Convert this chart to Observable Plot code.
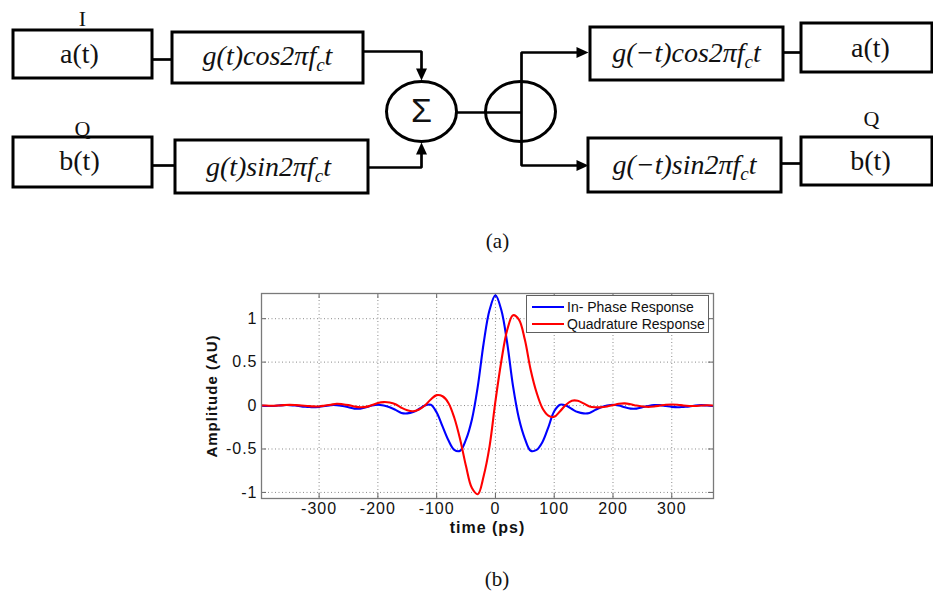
<!DOCTYPE html>
<html><head><meta charset="utf-8">
<script src="https://cdn.jsdelivr.net/npm/d3@7"></script>
<script src="https://cdn.jsdelivr.net/npm/@observablehq/plot@0.6"></script>
<style>
body{margin:0;background:#fff;}
#wrap{position:relative;width:933px;height:600px;overflow:hidden;background:#fff;}
#wrap svg{position:absolute;left:0;}
#legend{position:absolute;left:526px;top:295px;width:183px;height:38px;border:1px solid #606060;background:#fff;font-family:"Liberation Sans",Arial,sans-serif;font-size:14px;color:#111;box-sizing:border-box;}
.lrow{position:absolute;left:5px;height:16px;display:flex;align-items:center;white-space:nowrap;}
.lsw{width:32px;height:2px;margin-right:3px;}
#capb{position:absolute;top:567px;left:0;width:994px;text-align:center;font-family:"Liberation Serif","Times New Roman",serif;font-size:21px;color:#111;}
</style></head><body><div id="wrap"></div>
<script>
// ---------- chart (b) data ----------
const time = [-400,-390,-380,-370,-360,-350,-340,-330,-320,-310,-300,-290,-280,-270,-260,-250,-240,-230,-220,-210,-200,-190,-180,-170,-160,-150,-140,-130,-120,-110,-100,-90,-80,-70,-60,-50,-40,-30,-20,-10,0,10,20,30,40,50,60,70,80,90,100,110,120,130,140,150,160,170,180,190,200,210,220,230,240,250,260,270,280,290,300,310,320,330,340,350,360,370];
const inPhase = [0,-0.005,-0.005,0,0.005,0.005,0,-0.01,-0.015,-0.02,-0.015,-0.005,0.005,0.005,-0.005,-0.02,-0.035,-0.035,-0.02,0,0.01,0,-0.02,-0.05,-0.085,-0.09,-0.075,-0.04,0,0.01,-0.08,-0.24,-0.4,-0.51,-0.52,-0.39,-0.16,0.22,0.72,1.1,1.27,1.1,0.72,0.22,-0.15,-0.38,-0.52,-0.51,-0.42,-0.25,-0.065,0.01,0,-0.04,-0.075,-0.09,-0.085,-0.05,-0.02,0,0.01,0,-0.02,-0.035,-0.035,-0.02,-0.005,0.005,0.005,-0.005,-0.015,-0.02,-0.015,-0.01,0,0.005,0,-0.005];
const quadrature = [0,0,-0.003,0,0.005,0.008,0.005,0,-0.005,-0.01,-0.01,0,0.01,0.02,0.015,0.005,-0.01,-0.02,-0.015,0.005,0.03,0.04,0.035,0.015,-0.025,-0.055,-0.065,-0.045,0,0.07,0.12,0.107,0.03,-0.14,-0.39,-0.7,-0.95,-1.02,-0.81,-0.47,0.05,0.51,0.87,1.04,0.99,0.76,0.41,0.15,-0.03,-0.115,-0.13,-0.065,0.01,0.055,0.055,0.025,-0.01,-0.02,-0.02,-0.01,0.005,0.02,0.025,0.015,0,-0.01,-0.015,-0.01,0,0.01,0.012,0.01,0,-0.005,-0.005,0,0.003,0];
const seriesNames = ["In- Phase Response","Quadrature Response"];
const seriesColors = ["#0000ff","#ff0000"];
const xTicks = [-300,-200,-100,0,100,200,300];
const yTicks = [-1,-0.5,0,0.5,1];
const xLabel = "time (ps)";
const yLabel = "Amplitude (AU)";

// ---------- diagram (a) data ----------
const blockLabels = ["a(t)","g(t)cos2πf_ct","b(t)","g(t)sin2πf_ct","g(−t)cos2πf_ct","g(−t)sin2πf_ct","a(t)","b(t)"];
const blockLayout = [
  {x1:13,y1:30,x2:152,y2:78, tx:79,ty:54},
  {x1:172,y1:32,x2:363,y2:83, tx:267,ty:56},
  {x1:13,y1:137,x2:152,y2:187, tx:79,ty:161},
  {x1:175,y1:140,x2:368,y2:193, tx:268,ty:167},
  {x1:590,y1:27,x2:783,y2:80, tx:686,ty:53},
  {x1:588,y1:138,x2:781,y2:192, tx:684,ty:165},
  {x1:801,y1:23,x2:932,y2:72, tx:870,ty:48},
  {x1:801,y1:137,x2:932,y2:185, tx:870,ty:161}
];
const branchLabels = ["I","Q","Q"];
const branchLayout = [{x:82,y:18},{x:82,y:128},{x:871,y:118}];
const wires = [
  [[152,59],[172,59]],
  [[152,165],[175,165]],
  [[363,51],[421,51],[421,72]],
  [[368,167],[421,167],[421,150]],
  [[456,112],[521,112]],
  [[579,52],[521,52],[521,165],[579,165]],
  [[783,52],[801,52]],
  [[781,163],[801,163]]
];
const arrowTips = [{x:421,y:80,r:90},{x:421,y:142,r:-90},{x:588,y:52,r:0},{x:588,y:165,r:0}];
const nodes = [{x:421,y:111,label:"Σ"},{x:520,y:111,label:""}];
const captionA = "(a)";
const captionB = "(b)";

const wrap = document.getElementById("wrap");

// ---------- diagram ----------
function ellipseSymbol(rx, ry){
  const k = 0.5523;
  return {draw(c){
    c.moveTo(rx,0);
    c.bezierCurveTo(rx, ry*k, rx*k, ry, 0, ry);
    c.bezierCurveTo(-rx*k, ry, -rx, ry*k, -rx, 0);
    c.bezierCurveTo(-rx, -ry*k, -rx*k, -ry, 0, -ry);
    c.bezierCurveTo(rx*k, -ry, rx, -ry*k, rx, 0);
    c.closePath();
  }};
}
const arrowSymbol = {draw(c){ c.moveTo(0,0); c.lineTo(-12,-5.5); c.lineTo(-12,5.5); c.closePath(); }};
const wirePts = wires.flatMap((w,i)=>w.map(p=>({wire:i,x:p[0],y:p[1]})));
const blocks = blockLabels.map((t,i)=>({text:t,...blockLayout[i]}));
const branches = branchLabels.map((t,i)=>({text:t,...branchLayout[i]}));

const diagram = Plot.plot({
  width:933, height:265, margin:0,
  x:{domain:[0,933], range:[0,933], axis:null},
  y:{domain:[0,265], range:[0,265], axis:null},
  style:{background:"transparent"},
  marks:[
    Plot.line(wirePts,{x:"x",y:"y",z:"wire",stroke:"black",strokeWidth:2.7,strokeLinejoin:"miter",strokeLinecap:"butt"}),
    Plot.rect(blocks,{x1:"x1",x2:"x2",y1:"y1",y2:"y2",fill:"white",stroke:"black",strokeWidth:3}),
    Plot.dot(nodes,{x:"x",y:"y",symbol:ellipseSymbol(35,30),fill:"none",stroke:"black",strokeWidth:3}),
    Plot.dot(arrowTips,{x:"x",y:"y",rotate:"r",symbol:arrowSymbol,fill:"black",stroke:"none"}),
    Plot.text(blocks.filter(d=>!d.text.includes("_c")),{x:"tx",y:"ty",text:"text",fontFamily:"Liberation Serif, Times New Roman, serif",fontSize:28,fill:"#111"}),
    Plot.text(blocks.filter(d=>d.text.includes("_c")),{x:"tx",y:"ty",text:"text",fontFamily:"Liberation Serif, Times New Roman, serif",fontStyle:"italic",fontSize:28,fill:"#111"}),
    Plot.text(branches,{x:"x",y:"y",text:"text",fontFamily:"Liberation Serif, Times New Roman, serif",fontSize:22,fill:"#111"}),
    Plot.text(nodes,{x:"x",y:"y",text:"label",fontFamily:"Liberation Sans, Arial, sans-serif",fontSize:34,fill:"#111"}),
    Plot.text([captionA],{x:()=>497,y:()=>241,text:d=>d,fontFamily:"Liberation Serif, Times New Roman, serif",fontSize:21,fill:"#111"})
  ]
});
diagram.style.top = "0px";
d3.select(diagram).selectAll("text").each(function(){
  const t = this.textContent;
  if (t.includes("_c")) {
    const [a,b] = t.split("_c");
    const s = d3.select(this);
    s.text(null);
    s.append("tspan").text(a);
    s.append("tspan").attr("dy","6").attr("font-size","68%").text("c");
    s.append("tspan").attr("dy","-6").text(b);
  }
});
wrap.appendChild(diagram);

// ---------- chart ----------
const rows = time.flatMap((t,i)=>[
  {t, v:inPhase[i], s:seriesNames[0]},
  {t, v:quadrature[i], s:seriesNames[1]}
]);
const fmt = d=>String(d);
const chart = Plot.plot({
  width:933, height:265,
  marginTop:13, marginBottom:47, marginLeft:261, marginRight:220,
  x:{domain:[-398,371]},
  y:{domain:[-1.07,1.29]},
  color:{domain:seriesNames, range:seriesColors},
  style:{fontFamily:"Liberation Sans, Arial, sans-serif", fontSize:"16px", color:"#111", background:"transparent", letterSpacing:"1px"},
  marks:[
    Plot.gridX(xTicks,{stroke:"#8a8a8a",strokeOpacity:1,strokeDasharray:"1,2.5",strokeWidth:1}),
    Plot.gridY(yTicks,{stroke:"#8a8a8a",strokeOpacity:1,strokeDasharray:"1,2.5",strokeWidth:1}),
    Plot.tickX(xTicks,{x:d=>d,insetTop:200,stroke:"#666"}),
    Plot.tickX(xTicks,{x:d=>d,insetBottom:200,stroke:"#666"}),
    Plot.tickY(yTicks,{y:d=>d,insetRight:447,stroke:"#666"}),
    Plot.tickY(yTicks,{y:d=>d,insetLeft:447,stroke:"#666"}),
    Plot.line(rows,{x:"t",y:"v",z:"s",stroke:"s",strokeWidth:2.1,curve:"catmull-rom",clip:true}),
    Plot.frame({stroke:"#7a7a7a",strokeWidth:1.3}),
    Plot.axisX(xTicks,{tickSize:0,tickPadding:4,tickFormat:fmt,label:null,fontSize:16}),
    Plot.axisY(yTicks,{tickSize:0,tickPadding:4,tickFormat:fmt,label:null,fontSize:16}),
    Plot.text([xLabel],{frameAnchor:"bottom",dy:34,text:d=>d,fontWeight:"bold",fontSize:16}),
    Plot.text([yLabel],{frameAnchor:"left",dx:-49,rotate:-90,textAnchor:"middle",text:d=>d,fontWeight:"bold",fontSize:15})
  ]
});
chart.style.top = "280px";
wrap.appendChild(chart);

// legend
const lg = document.createElement("div");
lg.id = "legend";
seriesNames.forEach((n,i)=>{
  const r = document.createElement("div");
  r.className = "lrow";
  r.style.top = (3 + i*16.5) + "px";
  const sw = document.createElement("div");
  sw.className = "lsw"; sw.style.background = seriesColors[i];
  const tx = document.createElement("span"); tx.textContent = n;
  r.appendChild(sw); r.appendChild(tx); lg.appendChild(r);
});
wrap.appendChild(lg);

const cb = document.createElement("div");
cb.id = "capb"; cb.textContent = captionB;
wrap.appendChild(cb);
</script></body></html>
